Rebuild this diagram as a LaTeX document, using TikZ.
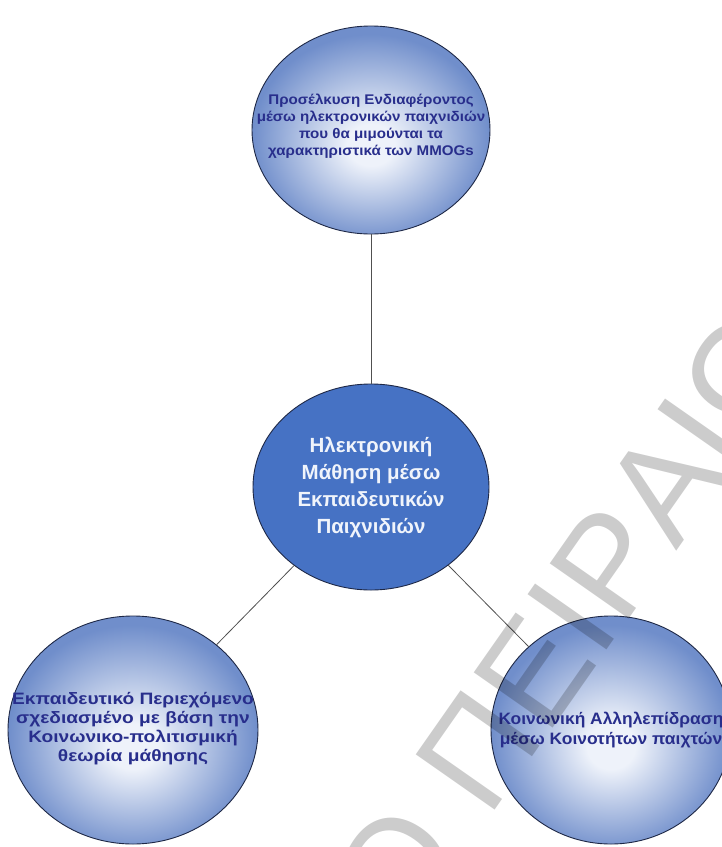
\documentclass[tikz,border=0pt]{standalone}
\usepackage{fontspec}
\setmainfont{Liberation Sans}
\usetikzlibrary{shapes.geometric}

\definecolor{ballin}{RGB}{238,242,250}
\definecolor{ballout}{RGB}{112,142,203}
\definecolor{hubblue}{RGB}{70,114,196}
\definecolor{rimcol}{RGB}{30,40,70}
\definecolor{navytext}{RGB}{40,46,140}
\definecolor{hubtext}{RGB}{240,244,251}
\definecolor{linkgrey}{RGB}{80,80,80}

% soft light spot, a little below the middle of each outer ball
\pgfdeclareradialshading{softball}{\pgfpoint{0bp}{-4bp}}{%
  color(0bp)=(ballin); color(5bp)=(ballin);
  color(25bp)=(ballout); color(50bp)=(ballout)}

\tikzset{
  topic/.style={ellipse, draw=rimcol, line width=0.9pt, shading=softball,
    inner sep=0pt, minimum width=#1},
  hub/.style={ellipse, draw=rimcol, line width=0.9pt, fill=hubblue,
    inner sep=0pt},
  topictext/.style n args={3}{text=navytext, align=center, inner sep=0pt,
    font=\bfseries\fontsize{#1}{#2}\selectfont, xscale=#3},
  hubtext/.style={text=hubtext, align=center, inner sep=0pt,
    font=\bfseries\fontsize{20.5}{27}\selectfont},
  link/.style={draw=linkgrey, line width=0.8pt},
  wmark/.style={text=black, text opacity=0.2, inner sep=0pt,
    font=\fontsize{140}{140}\selectfont, rotate=55}
}

\begin{document}
\begin{tikzpicture}[x=1pt, y=-1pt]
  \useasboundingbox (0,0) rectangle (722,847);
  \clip (0,0) rectangle (722,847);

  % the four balls
  \node[topic=238pt, minimum height=208pt] (top) at (371,130) {};
  \node[hub, minimum width=236pt, minimum height=206pt] (hub) at (371,487) {};
  \node[topic=250pt, minimum height=228pt] (left) at (133,730) {};
  \node[topic=240pt, minimum height=228pt] (right) at (611,730) {};

  % captions
  \node[topictext={14}{17}{1.08}, yshift=4pt] (top-t) at (top.center)
    {Προσέλκυση Ενδιαφέροντος\\μέσω ηλεκτρονικών παιχνιδιών\\που θα μιμούνται τα\\χαρακτηριστικά των MMOGs};
  \node[hubtext] (hub-t) at (hub.center)
    {Ηλεκτρονική\\Μάθηση μέσω\\Εκπαιδευτικών\\Παιχνιδιών};
  \node[topictext={16.5}{19}{1.16}, yshift=1pt] (left-t) at (left.center)
    {Εκπαιδευτικό Περιεχόμενο\\σχεδιασμένο με βάση την\\Κοινωνικο-πολιτισμική\\θεωρία μάθησης};
  \node[topictext={16.5}{19.5}{1.055}] (right-t) at (right.center)
    {Κοινωνική Αλληλεπίδραση\\μέσω Κοινοτήτων παιχτών};

  % connectors
  \draw[link] (top) -- (hub);
  \draw[link] (hub) -- (left);
  \draw[link] (hub) -- (right);

  % repository stamp across the page
  \coordinate (wm) at (676,552);
  \node[wmark, anchor=base west] (wm-b) at (wm) {ΑΙΩΣ};
  \node[wmark, anchor=base east] (wm-a) at (wm) {ΠΑΝΕΠΙΣΤΗΜΙΟ ΠΕΙΡ};
\end{tikzpicture}
\end{document}
